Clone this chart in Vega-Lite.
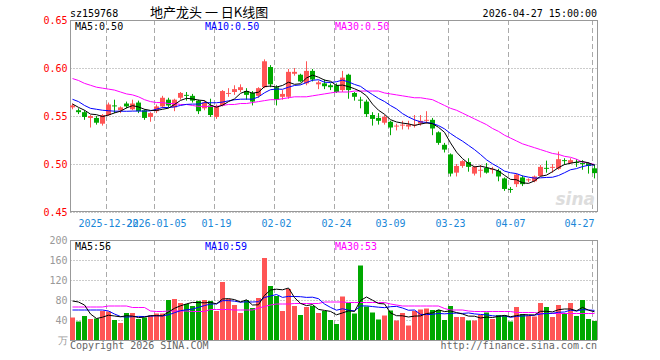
{
"$schema": "https://vega.github.io/schema/vega-lite/v6.json",
"width": 527, "height": 320,
"autosize": {"type": "none"},
"padding": {"left": 70, "top": 20, "right": 63, "bottom": 20},
"background": "white",
"config": {"view": {"stroke": null}, "font": "DejaVu Sans Mono"},
"data": {"values": [
{"d":"2025-12-12","o":0.559,"h":0.563,"l":0.557,"c":0.561,"v":45,"m5":0.5625,"m10":0.5674,"m30":0.589,"v5":78,"v10":60,"v30":66},
{"d":"2025-12-15","o":0.556,"h":0.558,"l":0.552,"c":0.554,"v":37,"m5":0.559,"m10":0.565,"m30":0.587,"v5":76,"v10":60,"v30":66},
{"d":"2025-12-16","o":0.554,"h":0.556,"l":0.546,"c":0.549,"v":48,"m5":0.556,"m10":0.561,"m30":0.584,"v5":70,"v10":60,"v30":66},
{"d":"2025-12-17","o":0.548,"h":0.551,"l":0.538,"c":0.550,"v":42,"m5":0.552,"m10":0.558,"m30":0.582,"v5":52,"v10":60,"v30":66},
{"d":"2025-12-18","o":0.548,"h":0.550,"l":0.541,"c":0.543,"v":43,"m5":0.5514,"m10":0.557,"m30":0.580,"v5":43,"v10":60,"v30":66},
{"d":"2025-12-19","o":0.542,"h":0.552,"l":0.540,"c":0.551,"v":58,"m5":0.5494,"m10":0.556,"m30":0.579,"v5":45.6,"v10":60,"v30":66},
{"d":"2025-12-22","o":0.551,"h":0.564,"l":0.550,"c":0.562,"v":57,"m5":0.551,"m10":0.5555,"m30":0.578,"v5":49.6,"v10":58,"v30":68},
{"d":"2025-12-23","o":0.561,"h":0.567,"l":0.553,"c":0.560,"v":40,"m5":0.5532,"m10":0.555,"m30":0.577,"v5":48,"v10":52,"v30":68},
{"d":"2025-12-24","o":0.556,"h":0.560,"l":0.553,"c":0.559,"v":34,"m5":0.555,"m10":0.555,"m30":0.575,"v5":46.4,"v10":47,"v30":68},
{"d":"2025-12-25","o":0.563,"h":0.565,"l":0.558,"c":0.560,"v":54,"m5":0.5584,"m10":0.5549,"m30":0.573,"v5":48.6,"v10":45.8,"v30":68},
{"d":"2025-12-26","o":0.557,"h":0.567,"l":0.556,"c":0.563,"v":54,"m5":0.5608,"m10":0.5551,"m30":0.572,"v5":47.8,"v10":46.7,"v30":65},
{"d":"2025-12-29","o":0.564,"h":0.566,"l":0.553,"c":0.555,"v":42,"m5":0.5594,"m10":0.5552,"m30":0.570,"v5":44.8,"v10":47.2,"v30":65},
{"d":"2025-12-30","o":0.556,"h":0.557,"l":0.546,"c":0.548,"v":45,"m5":0.557,"m10":0.5551,"m30":0.567,"v5":45.8,"v10":46.9,"v30":65},
{"d":"2025-12-31","o":0.549,"h":0.554,"l":0.544,"c":0.553,"v":49,"m5":0.5558,"m10":0.5554,"m30":0.565,"v5":48.8,"v10":47.6,"v30":58},
{"d":"2026-01-05","o":0.555,"h":0.562,"l":0.553,"c":0.560,"v":53,"m5":0.5558,"m10":0.5571,"m30":0.564,"v5":48.6,"v10":48.6,"v30":57},
{"d":"2026-01-06","o":0.560,"h":0.571,"l":0.558,"c":0.569,"v":53,"m5":0.557,"m10":0.5589,"m30":0.564,"v5":48.4,"v10":48.1,"v30":57},
{"d":"2026-01-07","o":0.567,"h":0.569,"l":0.559,"c":0.561,"v":80,"m5":0.5582,"m10":0.5588,"m30":0.563,"v5":56,"v10":50.4,"v30":58},
{"d":"2026-01-08","o":0.559,"h":0.568,"l":0.555,"c":0.567,"v":82,"m5":0.562,"m10":0.5595,"m30":0.563,"v5":63.4,"v10":54.6,"v30":58},
{"d":"2026-01-09","o":0.569,"h":0.575,"l":0.567,"c":0.574,"v":74,"m5":0.5662,"m10":0.561,"m30":0.562,"v5":68.4,"v10":58.6,"v30":58},
{"d":"2026-01-12","o":0.572,"h":0.575,"l":0.566,"c":0.571,"v":72,"m5":0.5684,"m10":0.5621,"m30":0.562,"v5":72.2,"v10":60.4,"v30":58},
{"d":"2026-01-13","o":0.571,"h":0.573,"l":0.564,"c":0.566,"v":68,"m5":0.5678,"m10":0.5624,"m30":0.561,"v5":75.2,"v10":61.8,"v30":57},
{"d":"2026-01-14","o":0.566,"h":0.567,"l":0.552,"c":0.555,"v":78,"m5":0.5666,"m10":0.5624,"m30":0.560,"v5":74.8,"v10":65.4,"v30":57},
{"d":"2026-01-15","o":0.558,"h":0.566,"l":0.556,"c":0.564,"v":80,"m5":0.566,"m10":0.564,"m30":0.560,"v5":74.4,"v10":68.9,"v30":57},
{"d":"2026-01-16","o":0.561,"h":0.568,"l":0.549,"c":0.551,"v":78,"m5":0.5614,"m10":0.5638,"m30":0.560,"v5":75.2,"v10":71.8,"v30":61},
{"d":"2026-01-19","o":0.549,"h":0.562,"l":0.547,"c":0.560,"v":58,"m5":0.5592,"m10":0.5638,"m30":0.560,"v5":72.4,"v10":72.3,"v30":61},
{"d":"2026-01-20","o":0.561,"h":0.577,"l":0.560,"c":0.576,"v":116,"m5":0.5612,"m10":0.5645,"m30":0.561,"v5":82,"v10":78.6,"v30":61},
{"d":"2026-01-21","o":0.573,"h":0.579,"l":0.570,"c":0.574,"v":82,"m5":0.565,"m10":0.5658,"m30":0.562,"v5":82.8,"v10":78.8,"v30":61},
{"d":"2026-01-22","o":0.575,"h":0.582,"l":0.572,"c":0.578,"v":70,"m5":0.5678,"m10":0.5669,"m30":0.562,"v5":80.8,"v10":77.6,"v30":60},
{"d":"2026-01-23","o":0.577,"h":0.583,"l":0.575,"c":0.580,"v":54,"m5":0.5736,"m10":0.5675,"m30":0.563,"v5":76,"v10":75.6,"v30":60},
{"d":"2026-01-26","o":0.576,"h":0.579,"l":0.567,"c":0.572,"v":80,"m5":0.576,"m10":0.5676,"m30":0.563,"v5":80.4,"v10":76.4,"v30":60},
{"d":"2026-01-27","o":0.574,"h":0.576,"l":0.561,"c":0.565,"v":64,"m5":0.5738,"m10":0.5675,"m30":0.564,"v5":70,"v10":76,"v30":60},
{"d":"2026-01-28","o":0.571,"h":0.580,"l":0.569,"c":0.579,"v":84,"m5":0.5748,"m10":0.5699,"m30":0.565,"v5":70.4,"v10":76.6,"v30":64},
{"d":"2026-01-29","o":0.580,"h":0.609,"l":0.579,"c":0.607,"v":164,"m5":0.5806,"m10":0.5742,"m30":0.566,"v5":89.2,"v10":85,"v30":67},
{"d":"2026-01-30","o":0.601,"h":0.603,"l":0.580,"c":0.583,"v":108,"m5":0.5812,"m10":0.5774,"m30":0.567,"v5":100,"v10":88,"v30":70},
{"d":"2026-02-02","o":0.580,"h":0.582,"l":0.561,"c":0.567,"v":88,"m5":0.5802,"m10":0.5781,"m30":0.567,"v5":101.6,"v10":91,"v30":72},
{"d":"2026-02-03","o":0.570,"h":0.577,"l":0.567,"c":0.573,"v":58,"m5":0.5818,"m10":0.5778,"m30":0.568,"v5":100.4,"v10":85.2,"v30":72},
{"d":"2026-02-04","o":0.570,"h":0.599,"l":0.568,"c":0.596,"v":102,"m5":0.5852,"m10":0.58,"m30":0.569,"v5":104,"v10":87.2,"v30":72},
{"d":"2026-02-05","o":0.594,"h":0.600,"l":0.592,"c":0.596,"v":68,"m5":0.583,"m10":0.5818,"m30":0.570,"v5":84.8,"v10":87,"v30":73},
{"d":"2026-02-06","o":0.593,"h":0.594,"l":0.585,"c":0.586,"v":50,"m5":0.5836,"m10":0.5824,"m30":0.570,"v5":73.2,"v10":86.6,"v30":73},
{"d":"2026-02-09","o":0.584,"h":0.607,"l":0.582,"c":0.597,"v":66,"m5":0.5896,"m10":0.5849,"m30":0.570,"v5":68.8,"v10":85.2,"v30":73},
{"d":"2026-02-10","o":0.597,"h":0.599,"l":0.586,"c":0.588,"v":68,"m5":0.5926,"m10":0.5872,"m30":0.571,"v5":70.8,"v10":85.6,"v30":73},
{"d":"2026-02-11","o":0.583,"h":0.587,"l":0.578,"c":0.585,"v":54,"m5":0.5904,"m10":0.5878,"m30":0.572,"v5":61.2,"v10":82.6,"v30":73},
{"d":"2026-02-12","o":0.584,"h":0.588,"l":0.578,"c":0.581,"v":58,"m5":0.5874,"m10":0.5852,"m30":0.573,"v5":59.2,"v10":72,"v30":76},
{"d":"2026-02-13","o":0.582,"h":0.584,"l":0.577,"c":0.580,"v":40,"m5":0.5862,"m10":0.5849,"m30":0.574,"v5":57.2,"v10":65.2,"v30":76},
{"d":"2026-02-24","o":0.582,"h":0.584,"l":0.574,"c":0.575,"v":32,"m5":0.5818,"m10":0.5857,"m30":0.575,"v5":50.4,"v10":59.6,"v30":76},
{"d":"2026-02-25","o":0.577,"h":0.597,"l":0.575,"c":0.590,"v":87,"m5":0.5822,"m10":0.5874,"m30":0.575,"v5":54.2,"v10":62.5,"v30":76},
{"d":"2026-02-26","o":0.593,"h":0.594,"l":0.568,"c":0.577,"v":74,"m5":0.5806,"m10":0.5855,"m30":0.575,"v5":58.2,"v10":59.7,"v30":75},
{"d":"2026-02-27","o":0.574,"h":0.575,"l":0.566,"c":0.570,"v":53,"m5":0.5784,"m10":0.5829,"m30":0.576,"v5":57.2,"v10":58.2,"v30":75},
{"d":"2026-03-02","o":0.567,"h":0.570,"l":0.558,"c":0.566,"v":149,"m5":0.5756,"m10":0.5809,"m30":0.576,"v5":79,"v10":68.1,"v30":75},
{"d":"2026-03-03","o":0.565,"h":0.567,"l":0.549,"c":0.552,"v":67,"m5":0.571,"m10":0.5764,"m30":0.576,"v5":86,"v10":68.2,"v30":75},
{"d":"2026-03-04","o":0.551,"h":0.554,"l":0.540,"c":0.547,"v":55,"m5":0.5624,"m10":0.5723,"m30":0.576,"v5":79.6,"v10":66.9,"v30":75},
{"d":"2026-03-05","o":0.548,"h":0.553,"l":0.541,"c":0.545,"v":41,"m5":0.556,"m10":0.5683,"m30":0.576,"v5":73,"v10":65.6,"v30":75},
{"d":"2026-03-06","o":0.543,"h":0.551,"l":0.541,"c":0.549,"v":49,"m5":0.5518,"m10":0.5651,"m30":0.574,"v5":72.2,"v10":64.7,"v30":75},
{"d":"2026-03-09","o":0.544,"h":0.545,"l":0.530,"c":0.538,"v":59,"m5":0.5462,"m10":0.5609,"m30":0.573,"v5":54.2,"v10":66.6,"v30":72},
{"d":"2026-03-10","o":0.539,"h":0.542,"l":0.535,"c":0.540,"v":39,"m5":0.5438,"m10":0.5574,"m30":0.572,"v5":48.6,"v10":67.3,"v30":70},
{"d":"2026-03-11","o":0.540,"h":0.545,"l":0.536,"c":0.541,"v":54,"m5":0.5426,"m10":0.5525,"m30":0.571,"v5":48.4,"v10":64,"v30":68},
{"d":"2026-03-12","o":0.539,"h":0.545,"l":0.536,"c":0.541,"v":29,"m5":0.5418,"m10":0.5489,"m30":0.570,"v5":46,"v10":59.5,"v30":68},
{"d":"2026-03-13","o":0.540,"h":0.551,"l":0.538,"c":0.541,"v":58,"m5":0.5402,"m10":0.546,"m30":0.569,"v5":47.8,"v10":60,"v30":68},
{"d":"2026-03-16","o":0.542,"h":0.551,"l":0.540,"c":0.545,"v":61,"m5":0.5416,"m10":0.5439,"m30":0.569,"v5":48.2,"v10":51.2,"v30":68},
{"d":"2026-03-17","o":0.545,"h":0.555,"l":0.542,"c":0.546,"v":63,"m5":0.5428,"m10":0.5433,"m30":0.568,"v5":53,"v10":50.8,"v30":68},
{"d":"2026-03-18","o":0.546,"h":0.548,"l":0.530,"c":0.537,"v":60,"m5":0.542,"m10":0.5423,"m30":0.567,"v5":54.2,"v10":51.3,"v30":68},
{"d":"2026-03-19","o":0.533,"h":0.534,"l":0.520,"c":0.522,"v":60,"m5":0.5382,"m10":0.54,"m30":0.564,"v5":60.4,"v10":53.2,"v30":68},
{"d":"2026-03-20","o":0.520,"h":0.522,"l":0.512,"c":0.515,"v":40,"m5":0.533,"m10":0.5366,"m30":0.561,"v5":56.8,"v10":52.3,"v30":63},
{"d":"2026-03-23","o":0.510,"h":0.511,"l":0.487,"c":0.490,"v":68,"m5":0.522,"m10":0.5318,"m30":0.558,"v5":58.2,"v10":53.2,"v30":60},
{"d":"2026-03-24","o":0.491,"h":0.500,"l":0.487,"c":0.498,"v":46,"m5":0.5124,"m10":0.5276,"m30":0.556,"v5":54.8,"v10":53.9,"v30":60},
{"d":"2026-03-25","o":0.498,"h":0.504,"l":0.496,"c":0.503,"v":46,"m5":0.5056,"m10":0.5238,"m30":0.553,"v5":52,"v10":53.1,"v30":60},
{"d":"2026-03-26","o":0.502,"h":0.506,"l":0.492,"c":0.497,"v":39,"m5":0.5006,"m10":0.5194,"m30":0.550,"v5":47.8,"v10":54.1,"v30":58},
{"d":"2026-03-27","o":0.490,"h":0.498,"l":0.488,"c":0.497,"v":39,"m5":0.497,"m10":0.515,"m30":0.547,"v5":47.6,"v10":52.2,"v30":57},
{"d":"2026-03-30","o":0.493,"h":0.499,"l":0.486,"c":0.494,"v":50,"m5":0.4978,"m10":0.5099,"m30":0.544,"v5":44,"v10":51.1,"v30":57},
{"d":"2026-03-31","o":0.496,"h":0.501,"l":0.490,"c":0.491,"v":55,"m5":0.4964,"m10":0.5044,"m30":0.541,"v5":45.8,"v10":50.3,"v30":57},
{"d":"2026-04-01","o":0.494,"h":0.497,"l":0.490,"c":0.495,"v":42,"m5":0.4948,"m10":0.5002,"m30":0.537,"v5":45,"v10":48.5,"v30":57},
{"d":"2026-04-02","o":0.493,"h":0.495,"l":0.482,"c":0.487,"v":50,"m5":0.4928,"m10":0.4967,"m30":0.534,"v5":47.2,"v10":47.5,"v30":57},
{"d":"2026-04-03","o":0.485,"h":0.486,"l":0.472,"c":0.474,"v":49,"m5":0.4882,"m10":0.4926,"m30":0.530,"v5":49.2,"v10":48.4,"v30":57},
{"d":"2026-04-07","o":0.474,"h":0.476,"l":0.470,"c":0.473,"v":37,"m5":0.484,"m10":0.4909,"m30":0.527,"v5":46.6,"v10":45.3,"v30":57},
{"d":"2026-04-08","o":0.479,"h":0.490,"l":0.476,"c":0.489,"v":66,"m5":0.4836,"m10":0.49,"m30":0.524,"v5":48.8,"v10":47.3,"v30":55},
{"d":"2026-04-09","o":0.486,"h":0.488,"l":0.477,"c":0.479,"v":52,"m5":0.4804,"m10":0.4876,"m30":0.521,"v5":50.8,"v10":47.9,"v30":55},
{"d":"2026-04-10","o":0.483,"h":0.485,"l":0.481,"c":0.484,"v":48,"m5":0.4798,"m10":0.4863,"m30":0.519,"v5":50.4,"v10":48.8,"v30":55},
{"d":"2026-04-13","o":0.482,"h":0.488,"l":0.481,"c":0.487,"v":47,"m5":0.4824,"m10":0.4853,"m30":0.517,"v5":50,"v10":49.6,"v30":55},
{"d":"2026-04-14","o":0.4875,"h":0.499,"l":0.487,"c":0.497,"v":74,"m5":0.4872,"m10":0.4856,"m30":0.515,"v5":57.4,"v10":52,"v30":53},
{"d":"2026-04-15","o":0.496,"h":0.5035,"l":0.491,"c":0.495,"v":66,"m5":0.4884,"m10":0.486,"m30":0.513,"v5":57.4,"v10":53.1,"v30":53},
{"d":"2026-04-16","o":0.496,"h":0.500,"l":0.491,"c":0.497,"v":46,"m5":0.492,"m10":0.4862,"m30":0.511,"v5":56.2,"v10":53.5,"v30":53},
{"d":"2026-04-17","o":0.495,"h":0.513,"l":0.494,"c":0.505,"v":70,"m5":0.4962,"m10":0.488,"m30":0.510,"v5":60.6,"v10":55.5,"v30":53},
{"d":"2026-04-20","o":0.504,"h":0.506,"l":0.499,"c":0.503,"v":54,"m5":0.4994,"m10":0.4909,"m30":0.508,"v5":62,"v10":56,"v30":53},
{"d":"2026-04-21","o":0.501,"h":0.506,"l":0.500,"c":0.504,"v":74,"m5":0.5008,"m10":0.494,"m30":0.507,"v5":62,"v10":59.7,"v30":53},
{"d":"2026-04-22","o":0.502,"h":0.505,"l":0.497,"c":0.501,"v":48,"m5":0.502,"m10":0.4952,"m30":0.505,"v5":58.4,"v10":57.9,"v30":53},
{"d":"2026-04-23","o":0.501,"h":0.504,"l":0.494,"c":0.500,"v":80,"m5":0.5026,"m10":0.4973,"m30":0.502,"v5":65.2,"v10":60.7,"v30":53},
{"d":"2026-04-24","o":0.501,"h":0.502,"l":0.490,"c":0.498,"v":42,"m5":0.5012,"m10":0.4987,"m30":0.501,"v5":59.6,"v10":60.1,"v30":53},
{"d":"2026-04-27","o":0.4955,"h":0.500,"l":0.485,"c":0.4905,"v":38,"m5":0.4987,"m10":0.4991,"m30":0.4995,"v5":56.4,"v10":59.2,"v30":53}
]},
"layer": [
{"layer": [
 {"transform": [{"filter": {"field": "d", "oneOf": ["2025-12-22","2026-01-05","2026-01-19","2026-02-02","2026-02-24","2026-03-09","2026-03-23","2026-04-07","2026-04-27"]}}],
  "mark": {"type": "rule", "color": "#aaaaaa", "strokeDash": [5,3], "xOffset": 0.5},
  "encoding": {
   "x": {"field": "d", "type": "ordinal", "bandPosition": 0,
     "scale": {"type": "band", "paddingInner": 0.1666667, "paddingOuter": 0},
     "axis": {"orient": "bottom", "offset": -128, "title": null, "values": ["2025-12-22","2026-01-05","2026-01-19","2026-02-02","2026-02-24","2026-03-09","2026-03-23","2026-04-07","2026-04-27"],
       "bandPosition": 0, "labelExpr": "(datum.value == '2025-12-22' || datum.value == '2026-01-05') ? datum.value : slice(datum.value, 5)",
       "labelAlign": {"condition": {"test": "datum.value == '2026-04-27'", "value": "right"}, "value": "center"},
       "labelAngle": 0, "labelColor": "#1a87d8", "labelFont": "DejaVu Sans Mono", "labelFontSize": 10, "labelOverlap": false, "labelPadding": 6,
       "ticks": false, "tickSize": 0, "domain": false, "grid": false}},
   "y": {"datum": 0.65, "type": "quantitative",
     "scale": {"domain": [0.45, 0.65], "range": [192, 0], "zero": false, "nice": false},
     "axis": {"orient": "left", "title": null, "values": [0.45,0.5,0.55,0.6,0.65], "format": ".2f", "labelColor": "#ff0000", "labelFont": "DejaVu Sans Mono", "labelFontSize": 10, "labelPadding": 3, "ticks": false, "tickSize": 0, "domain": true, "domainColor": "#999999", "grid": true, "gridColor": "#999999", "gridDash": [1,2]}},
   "y2": {"datum": 0.45}
  }},
 {"mark": {"type": "rule", "strokeWidth": 1},
  "encoding": {"x": {"field": "d", "type": "ordinal"}, "y": {"field": "l", "type": "quantitative"}, "y2": {"field": "h"},
   "color": {"condition": {"test": "datum.c >= datum.o", "value": "#ff5555"}, "value": "#00a800"}}},
 {"mark": {"type": "bar"},
  "encoding": {"x": {"field": "d", "type": "ordinal"}, "y": {"field": "o", "type": "quantitative"}, "y2": {"field": "c"},
   "color": {"condition": {"test": "datum.c >= datum.o", "value": "#ff5555"}, "value": "#00a800"}}},
 {"mark": {"type": "line", "color": "#ff00ff", "strokeWidth": 1},
  "encoding": {"x": {"field": "d", "type": "ordinal"}, "y": {"field": "m30", "type": "quantitative"}}},
 {"mark": {"type": "line", "color": "#0000ff", "strokeWidth": 1},
  "encoding": {"x": {"field": "d", "type": "ordinal"}, "y": {"field": "m10", "type": "quantitative"}}},
 {"mark": {"type": "line", "color": "#000000", "strokeWidth": 1},
  "encoding": {"x": {"field": "d", "type": "ordinal"}, "y": {"field": "m5", "type": "quantitative"}}},
 {"data": {"values": [{}]}, "mark": {"type": "rule", "color": "#999999", "yOffset": 0.5},
  "encoding": {"y": {"datum": 0.65, "type": "quantitative"}}},
 {"data": {"values": [{}]}, "mark": {"type": "rule", "color": "#999999", "yOffset": -0.5},
  "encoding": {"y": {"datum": 0.45, "type": "quantitative"}}},
 {"data": {"values": [{}]}, "mark": {"type": "rule", "color": "#999999", "xOffset": 5.5},
  "encoding": {"x": {"datum": "2026-04-27", "type": "ordinal", "bandPosition": 0}, "y": {"datum": 0.65, "type": "quantitative"}, "y2": {"datum": 0.45}}},
 {"data": {"values": [{}]}, "mark": {"type": "text", "text": "sz159768", "align": "left", "baseline": "alphabetic", "dy": -3.5, "fontSize": 10, "font": "DejaVu Sans Mono", "color": "#000000"},
  "encoding": {"x": {"datum": "2025-12-12", "type": "ordinal", "bandPosition": 0}, "y": {"datum": 0.65, "type": "quantitative"}}},
 {"data": {"values": [{}]}, "mark": {"type": "text", "text": "地产龙头 一 日K线图", "align": "left", "baseline": "alphabetic", "dx": 80, "dy": -3, "fontSize": 13, "font": "Noto Sans CJK SC", "color": "#000000"},
  "encoding": {"x": {"datum": "2025-12-12", "type": "ordinal", "bandPosition": 0}, "y": {"datum": 0.65, "type": "quantitative"}}},
 {"data": {"values": [{}]}, "mark": {"type": "text", "text": "2026-04-27 15:00:00", "align": "right", "baseline": "alphabetic", "dx": 5, "dy": -3.5, "fontSize": 10, "font": "DejaVu Sans Mono", "color": "#000000"},
  "encoding": {"x": {"datum": "2026-04-27", "type": "ordinal", "bandPosition": 0}, "y": {"datum": 0.65, "type": "quantitative"}}},
 {"data": {"values": [{}]}, "mark": {"type": "text", "text": "MA5:0.50", "align": "left", "baseline": "alphabetic", "dx": 5, "dy": 9.5, "fontSize": 10, "font": "DejaVu Sans Mono", "color": "#000000"},
  "encoding": {"x": {"datum": "2025-12-12", "type": "ordinal", "bandPosition": 0}, "y": {"datum": 0.65, "type": "quantitative"}}},
 {"data": {"values": [{}]}, "mark": {"type": "text", "text": "MA10:0.50", "align": "left", "baseline": "alphabetic", "dx": 135, "dy": 9.5, "fontSize": 10, "font": "DejaVu Sans Mono", "color": "#0000ff"},
  "encoding": {"x": {"datum": "2025-12-12", "type": "ordinal", "bandPosition": 0}, "y": {"datum": 0.65, "type": "quantitative"}}},
 {"data": {"values": [{}]}, "mark": {"type": "text", "text": "MA30:0.50", "align": "left", "baseline": "alphabetic", "dx": 265, "dy": 9.5, "fontSize": 10, "font": "DejaVu Sans Mono", "color": "#ff00ff"},
  "encoding": {"x": {"datum": "2025-12-12", "type": "ordinal", "bandPosition": 0}, "y": {"datum": 0.65, "type": "quantitative"}}},
 {"data": {"values": [{}]}, "mark": {"type": "text", "text": "sina", "align": "right", "baseline": "alphabetic", "dx": 3, "dy": -7, "fontSize": 17, "font": "DejaVu Sans", "fontStyle": "italic", "fontWeight": "bold", "color": "#dddddd"},
  "encoding": {"x": {"datum": "2026-04-27", "type": "ordinal", "bandPosition": 0}, "y": {"datum": 0.45, "type": "quantitative"}}}
]},
{"layer": [
 {"transform": [{"filter": {"field": "d", "oneOf": ["2025-12-22","2026-01-05","2026-01-19","2026-02-02","2026-02-24","2026-03-09","2026-03-23","2026-04-07","2026-04-27"]}}],
  "mark": {"type": "rule", "color": "#aaaaaa", "strokeDash": [5,3], "xOffset": 0.5},
  "encoding": {
   "x": {"field": "d", "type": "ordinal", "bandPosition": 0},
   "y": {"datum": 200, "type": "quantitative",
     "scale": {"domain": [0, 200], "range": [320, 220], "zero": false, "nice": false},
     "axis": {"orient": "left", "title": null, "values": [0,40,80,120,160,200], "labelExpr": "datum.value == 0 ? '万' : datum.label", "labelColor": "#999999", "labelFont": "DejaVu Sans Mono", "labelFontSize": 10, "labelPadding": 3, "ticks": false, "tickSize": 0, "domain": true, "domainColor": "#999999", "grid": true, "gridColor": "#999999", "gridDash": [1,2]}},
   "y2": {"datum": 0}
  }},
 {"mark": {"type": "bar"},
  "encoding": {"x": {"field": "d", "type": "ordinal"}, "y": {"field": "v", "type": "quantitative"}, "y2": {"datum": 0},
   "color": {"condition": {"test": "datum.c >= datum.o", "value": "#ff5555"}, "value": "#00a800"}}},
 {"mark": {"type": "line", "color": "#ff00ff", "strokeWidth": 1},
  "encoding": {"x": {"field": "d", "type": "ordinal"}, "y": {"field": "v30", "type": "quantitative"}}},
 {"mark": {"type": "line", "color": "#0000ff", "strokeWidth": 1},
  "encoding": {"x": {"field": "d", "type": "ordinal"}, "y": {"field": "v10", "type": "quantitative"}}},
 {"mark": {"type": "line", "color": "#000000", "strokeWidth": 1},
  "encoding": {"x": {"field": "d", "type": "ordinal"}, "y": {"field": "v5", "type": "quantitative"}}},
 {"data": {"values": [{}]}, "mark": {"type": "rule", "color": "#999999", "yOffset": 0.5},
  "encoding": {"y": {"datum": 200, "type": "quantitative"}}},
 {"data": {"values": [{}]}, "mark": {"type": "rule", "color": "#999999", "yOffset": 0.5},
  "encoding": {"y": {"datum": 0, "type": "quantitative"}}},
 {"data": {"values": [{}]}, "mark": {"type": "rule", "color": "#999999", "xOffset": 5.5},
  "encoding": {"x": {"datum": "2026-04-27", "type": "ordinal", "bandPosition": 0}, "y": {"datum": 200, "type": "quantitative"}, "y2": {"datum": 0}}},
 {"data": {"values": [{}]}, "mark": {"type": "text", "text": "MA5:56", "align": "left", "baseline": "alphabetic", "dx": 5, "dy": 10, "fontSize": 10, "font": "DejaVu Sans Mono", "color": "#000000"},
  "encoding": {"x": {"datum": "2025-12-12", "type": "ordinal", "bandPosition": 0}, "y": {"datum": 200, "type": "quantitative"}}},
 {"data": {"values": [{}]}, "mark": {"type": "text", "text": "MA10:59", "align": "left", "baseline": "alphabetic", "dx": 135, "dy": 10, "fontSize": 10, "font": "DejaVu Sans Mono", "color": "#0000ff"},
  "encoding": {"x": {"datum": "2025-12-12", "type": "ordinal", "bandPosition": 0}, "y": {"datum": 200, "type": "quantitative"}}},
 {"data": {"values": [{}]}, "mark": {"type": "text", "text": "MA30:53", "align": "left", "baseline": "alphabetic", "dx": 265, "dy": 10, "fontSize": 10, "font": "DejaVu Sans Mono", "color": "#ff00ff"},
  "encoding": {"x": {"datum": "2025-12-12", "type": "ordinal", "bandPosition": 0}, "y": {"datum": 200, "type": "quantitative"}}},
 {"data": {"values": [{}]}, "mark": {"type": "text", "text": "Copyright 2026 SINA.COM", "align": "left", "baseline": "alphabetic", "dx": 0, "dy": 8.5, "fontSize": 10, "font": "DejaVu Sans Mono", "color": "#666666"},
  "encoding": {"x": {"datum": "2025-12-12", "type": "ordinal", "bandPosition": 0}, "y": {"datum": 0, "type": "quantitative"}}},
 {"data": {"values": [{}]}, "mark": {"type": "text", "text": "http://finance.sina.com.cn", "align": "right", "baseline": "alphabetic", "dx": 5, "dy": 8.5, "fontSize": 10, "font": "DejaVu Sans Mono", "color": "#666666"},
  "encoding": {"x": {"datum": "2026-04-27", "type": "ordinal", "bandPosition": 0}, "y": {"datum": 0, "type": "quantitative"}}}
]}
],
"resolve": {"scale": {"y": "independent"}, "axis": {"y": "independent"}}
}
